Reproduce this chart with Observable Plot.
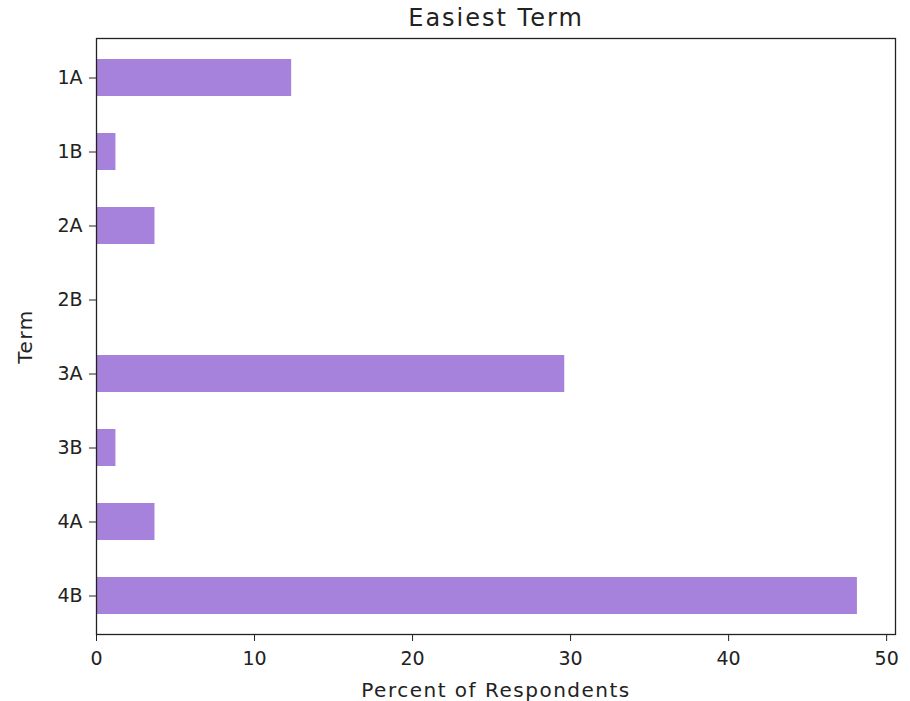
<!DOCTYPE html>
<html>
<head>
<meta charset="utf-8">
<script src="https://cdn.jsdelivr.net/npm/d3@7"></script>
<script src="https://cdn.jsdelivr.net/npm/@observablehq/plot@0.6"></script>
<style>
  html, body { margin: 0; padding: 0; background: #fff; }
  svg { display: block; }
</style>
</head>
<body>
<div id="chart"></div>
<script>
const terms = ["1A", "1B", "2A", "2B", "3A", "3B", "4A", "4B"];
const percents = [12.35, 1.23, 3.70, 0, 29.63, 1.23, 3.70, 48.15];
const xTicks = [0, 10, 20, 30, 40, 50];
const titleText = "Easiest Term";
const xLabel = "Percent of Respondents";
const yLabel = "Term";

const data = terms.map((t, i) => ({term: t, pct: percents[i]}));
const font = "DejaVu Sans, sans-serif";

const chart = Plot.plot({
  width: 910,
  height: 701,
  marginTop: 38,
  marginLeft: 96,
  marginRight: 15,
  marginBottom: 67,
  style: {fontFamily: font, color: "#222", background: "#fff"},
  x: {domain: [0, 50.56], ticks: xTicks},
  y: {domain: terms, paddingInner: 0.5, paddingOuter: 0.25, align: 0.5},
  marks: [
    Plot.barX(data, {y: "term", x: "pct", fill: "#a682dc"}),
    Plot.frame({stroke: "#222", strokeWidth: 1.3}),
    Plot.axisX({ticks: xTicks, tickSize: 7, tickPadding: 10, fontSize: 19, label: null}),
    Plot.axisX({ticks: [], label: xLabel, labelAnchor: "center", labelOffset: 62,
      labelArrow: "none", fontSize: 20}),
    Plot.axisY({tickSize: 7, tickPadding: 7, fontSize: 19, label: null}),
    Plot.axisY({ticks: [], label: yLabel, labelAnchor: "center", labelOffset: 79,
      labelArrow: "none", fontSize: 20}),
    Plot.text([titleText], {frameAnchor: "top", dy: -20, lineAnchor: "middle",
      text: d => d, fontSize: 24, fill: "#222"})
  ]
});
// widen letter spacing to approximate the reference's wide geometric typeface
d3.select(chart).selectAll('[aria-label="x-axis label"] text, [aria-label="y-axis label"] text')
  .attr("letter-spacing", "1.5px");
d3.select(chart).selectAll("text").filter(function() { return this.textContent === titleText; })
  .attr("letter-spacing", "2px");
document.getElementById("chart").appendChild(chart);
</script>
</body>
</html>
